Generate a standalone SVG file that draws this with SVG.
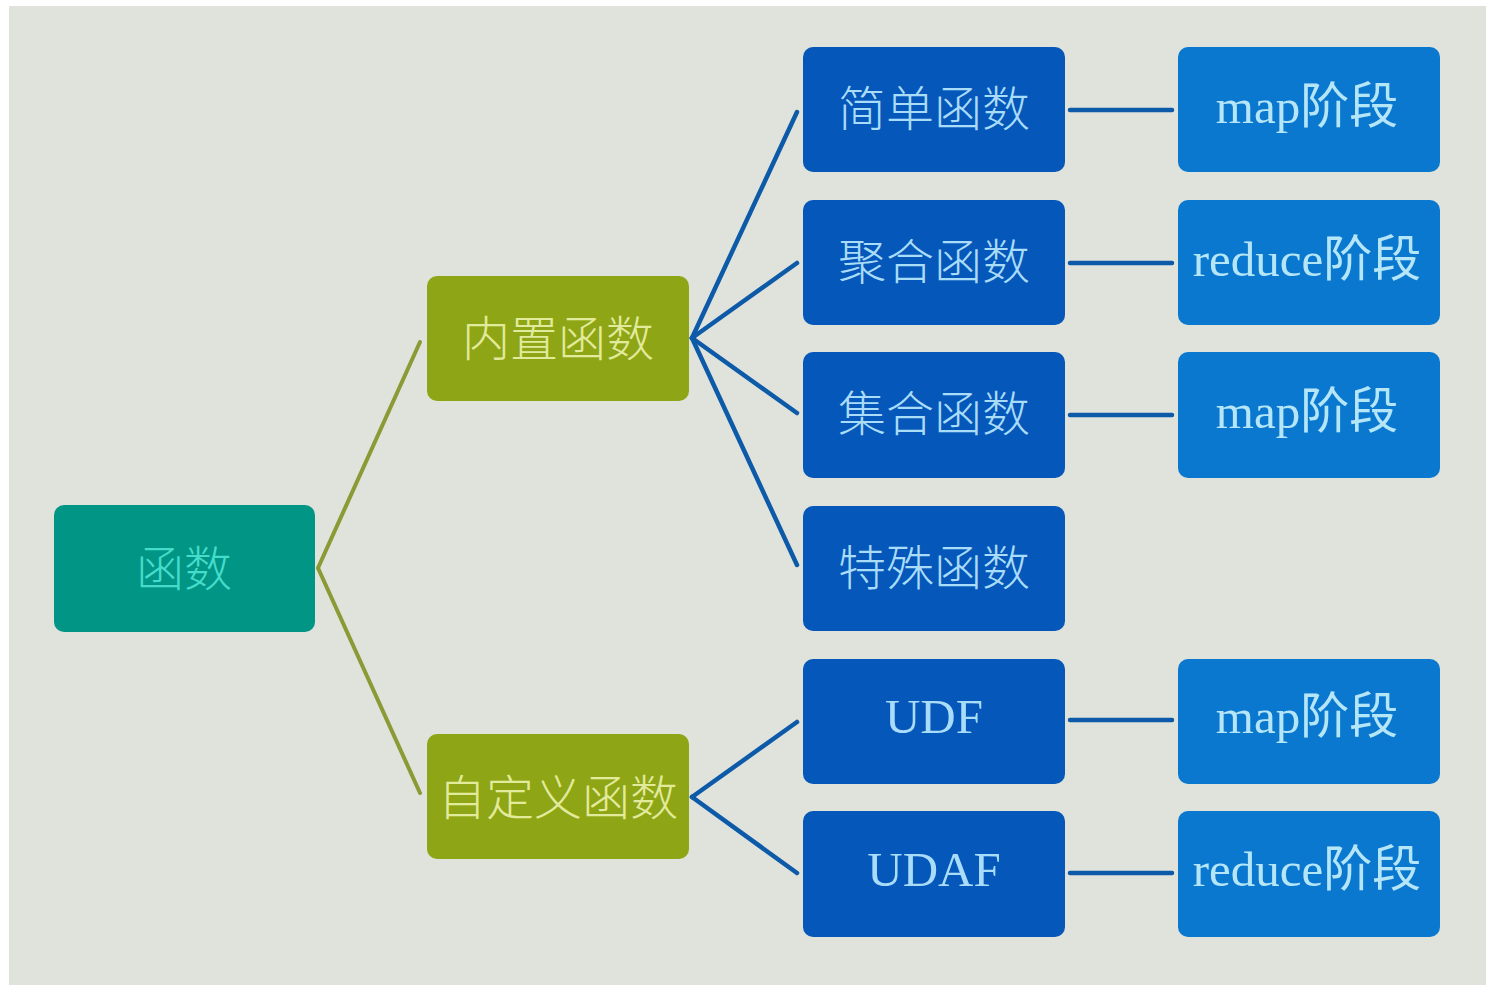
<svg xmlns="http://www.w3.org/2000/svg" width="1494" height="990" viewBox="0 0 1494 990">
<defs>
<style>
.t{font-family:"Noto Sans CJK SC","Liberation Sans",sans-serif;font-size:48px;font-weight:300;text-anchor:middle;dominant-baseline:central}
.l{font-family:"Liberation Serif","Noto Sans CJK SC",serif;font-size:49px;text-anchor:middle;dominant-baseline:central}
.root rect{fill:#009585}
.root text{fill:#45dccb}
.mid rect{fill:#8ea515}
.mid text{fill:#e2ea9c}
.c3 rect{fill:#0557b9}
.c3 text{fill:#a8dcf8}
.c4 rect{fill:#0a78cf}
.c4 text{fill:#b4e6f8}
.olive{stroke:#8c9a35;stroke-width:4;fill:none;stroke-linecap:round}
.blue{stroke:#0d5aa8;stroke-width:4.5;fill:none;stroke-linecap:round}
</style>
</defs>
<rect x="0" y="0" width="1494" height="990" fill="#ffffff"/>
<rect x="9" y="6" width="1477" height="979" fill="#dfe3dc"/>
<g id="connectors">
<line class="olive" x1="318" y1="568" x2="420" y2="342"/>
<line class="olive" x1="318" y1="568" x2="420" y2="793"/>
<line class="blue" x1="692" y1="338" x2="797" y2="112"/>
<line class="blue" x1="692" y1="338" x2="797" y2="263"/>
<line class="blue" x1="692" y1="338" x2="797" y2="413"/>
<line class="blue" x1="692" y1="338" x2="797" y2="565"/>
<line class="blue" x1="692" y1="797" x2="797" y2="722"/>
<line class="blue" x1="692" y1="797" x2="797" y2="873"/>
<line class="blue" x1="1070" y1="110" x2="1172" y2="110"/>
<line class="blue" x1="1070" y1="263" x2="1172" y2="263"/>
<line class="blue" x1="1070" y1="415" x2="1172" y2="415"/>
<line class="blue" x1="1070" y1="720" x2="1172" y2="720"/>
<line class="blue" x1="1070" y1="873" x2="1172" y2="873"/>
</g>
<g id="n-hanshu" class="root"><rect x="54" y="505" width="261" height="127" rx="10"/><text class="t" x="184" y="565">函数</text></g>
<g id="n-neizhi" class="mid"><rect x="427" y="276" width="262" height="125" rx="10"/><text class="t" x="558" y="335">内置函数</text></g>
<g id="n-zidingyi" class="mid"><rect x="427" y="734" width="262" height="125" rx="10"/><text class="t" x="558" y="794">自定义函数</text></g>
<g id="n-jiandan" class="c3"><rect x="803" y="47" width="262" height="125" rx="10"/><text class="t" x="934" y="105">简单函数</text></g>
<g id="n-juhe" class="c3"><rect x="803" y="200" width="262" height="125" rx="10"/><text class="t" x="934" y="258">聚合函数</text></g>
<g id="n-jihe" class="c3"><rect x="803" y="352" width="262" height="126" rx="10"/><text class="t" x="934" y="410">集合函数</text></g>
<g id="n-teshu" class="c3"><rect x="803" y="506" width="262" height="125" rx="10"/><text class="t" x="934" y="564">特殊函数</text></g>
<g id="n-udf" class="c3"><rect x="803" y="659" width="262" height="125" rx="10"/><text class="l" x="934" y="716">UDF</text></g>
<g id="n-udaf" class="c3"><rect x="803" y="811" width="262" height="126" rx="10"/><text class="l" x="934" y="869">UDAF</text></g>
<g id="n-map1" class="c4"><rect x="1178" y="47" width="262" height="125" rx="10"/><text class="l" x="1307" y="106">map阶段</text></g>
<g id="n-reduce1" class="c4"><rect x="1178" y="200" width="262" height="125" rx="10"/><text class="l" x="1307" y="259">reduce阶段</text></g>
<g id="n-map2" class="c4"><rect x="1178" y="352" width="262" height="126" rx="10"/><text class="l" x="1307" y="411">map阶段</text></g>
<g id="n-map3" class="c4"><rect x="1178" y="659" width="262" height="125" rx="10"/><text class="l" x="1307" y="716">map阶段</text></g>
<g id="n-reduce2" class="c4"><rect x="1178" y="811" width="262" height="126" rx="10"/><text class="l" x="1307" y="869">reduce阶段</text></g>
</svg>
